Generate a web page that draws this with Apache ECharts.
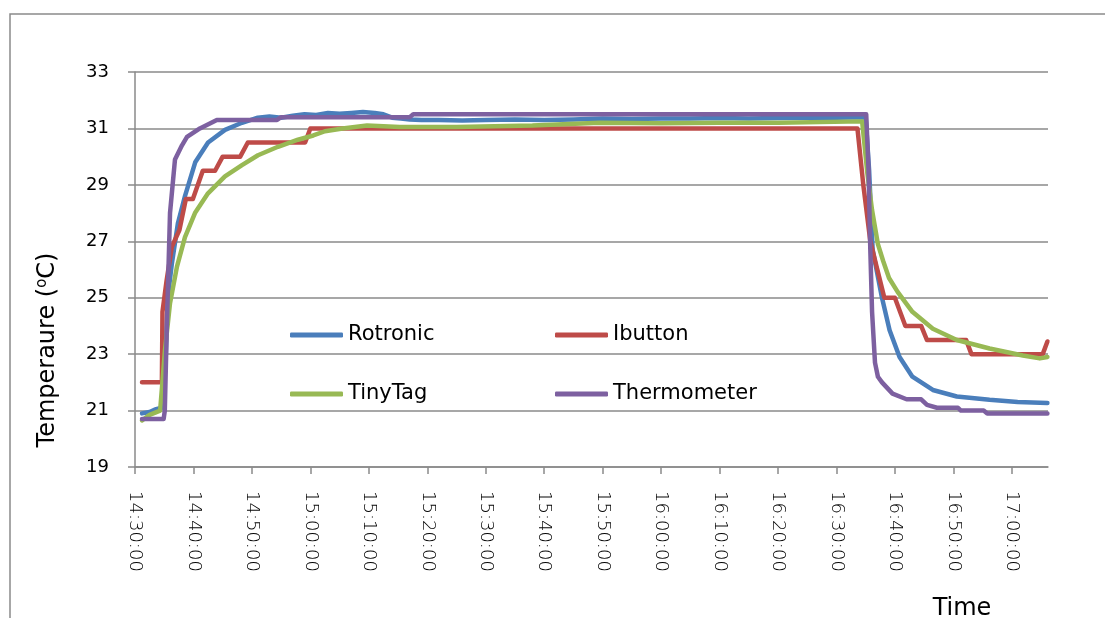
<!DOCTYPE html>
<html>
<head>
<meta charset="utf-8">
<script src="https://cdn.jsdelivr.net/npm/echarts@6/dist/echarts.min.js"></script>
<style>
html,body{margin:0;padding:0;background:#fff;}
#chart{width:1105px;height:618px;}
</style>
</head>
<body>
<div id="chart"></div>
<script>
// Time values are minutes after 14:30:00
const seriesNames = ['Rotronic', 'Ibutton', 'TinyTag', 'Thermometer'];
const yTicks = [19, 21, 23, 25, 27, 29, 31, 33];
const xTickMinutes = [0, 10, 20, 30, 40, 50, 60, 70, 80, 90, 100, 110, 120, 130, 140, 150];

const rotronicT = [1.2, 2.5, 3.6, 4.6, 5.2, 5.6, 6.3, 7.35, 8.55, 10.3, 12.5, 15.4, 18.3, 21.0, 23.0, 25.0, 27.0, 29.0, 31.0, 33.0, 35.0, 37.0, 39.0, 41.0, 42.5, 44.0, 45.5, 47.0, 49, 52, 56, 60, 65, 70, 75, 80, 85, 90, 95, 100, 105, 110, 115, 120, 125.0, 125.6, 126.2, 127.8, 129.1, 130.8, 133.0, 136.5, 140.6, 146.2, 151.0, 156.1];
const rotronicV = [20.9, 20.95, 21.05, 21.1, 22.6, 25.0, 26.2, 27.65, 28.6, 29.8, 30.5, 30.95, 31.2, 31.38, 31.42, 31.38, 31.45, 31.5, 31.48, 31.55, 31.52, 31.55, 31.58, 31.55, 31.5, 31.38, 31.35, 31.32, 31.3, 31.3, 31.28, 31.3, 31.32, 31.3, 31.32, 31.35, 31.33, 31.35, 31.35, 31.37, 31.35, 31.37, 31.38, 31.38, 31.4, 29.5, 26.7, 25.0, 23.85, 22.9, 22.2, 21.73, 21.5, 21.38, 21.3, 21.27];

const ibuttonT = [1.2, 4.6, 4.7, 5.4, 6.3, 7.6, 8.7, 9.9, 11.6, 13.7, 15.0, 18.0, 19.3, 29.1, 30.0, 123.6, 124.6, 125.8, 127.0, 128.2, 130.0, 131.8, 134.5, 135.5, 142.2, 143.1, 155.3, 156.1];
const ibuttonV = [22.0, 22.0, 24.5, 25.6, 26.8, 27.4, 28.5, 28.5, 29.5, 29.5, 30.0, 30.0, 30.5, 30.5, 31.0, 31.0, 29.0, 27.0, 26.0, 25.0, 25.0, 24.0, 24.0, 23.5, 23.5, 23.0, 23.0, 23.45];

const tinytagT = [1.2, 2.5, 4.3, 5.13, 5.99, 7.18, 8.55, 10.26, 12.49, 15.39, 18.3, 21.04, 24.46, 27.88, 30.5, 32.5, 35.5, 39.7, 45.3, 55, 68, 79.5, 90, 100, 110, 124.4, 125.3, 126.1, 127.1, 128.0, 129.0, 130.5, 133.0, 136.5, 140.6, 146.2, 151.9, 154.8, 156.1];
const tinytagV = [20.65, 20.85, 21.0, 23.15, 24.8, 26.1, 27.15, 28.0, 28.7, 29.3, 29.7, 30.05, 30.35, 30.6, 30.75, 30.9, 31.0, 31.1, 31.05, 31.05, 31.1, 31.2, 31.18, 31.2, 31.2, 31.25, 29.4, 28.1, 26.9, 26.3, 25.7, 25.2, 24.5, 23.9, 23.5, 23.2, 22.95, 22.85, 22.9];

const thermoT = [1.2, 4.9, 5.1, 5.4, 5.99, 6.84, 8.04, 8.9, 11.1, 14.0, 24.3, 25.0, 47.0, 47.6, 125.1, 125.5, 125.8, 126.1, 126.6, 127.1, 127.8, 129.6, 132.0, 134.5, 135.5, 137.2, 140.8, 141.3, 145.2, 145.8, 156.1];
const thermoV = [20.7, 20.7, 21.0, 23.6, 28.0, 29.9, 30.4, 30.7, 31.0, 31.3, 31.3, 31.4, 31.4, 31.5, 31.5, 29.5, 26.7, 24.5, 22.7, 22.2, 22.0, 21.6, 21.4, 21.4, 21.2, 21.1, 21.1, 21.0, 21.0, 20.9, 20.9];

const colors = ['#4a7ebb', '#be4b48', '#98b954', '#7d60a0'];
const seriesT = [rotronicT, ibuttonT, tinytagT, thermoT];
const seriesV = [rotronicV, ibuttonV, tinytagV, thermoV];

function fmtTime(m) {
  const total = Math.round(m) + 14 * 60 + 30;
  const h = Math.floor(total / 60), mm = total % 60;
  return h + ':' + String(mm).padStart(2, '0') + ':00';
}

const chart = echarts.init(document.getElementById('chart'), null, {renderer: 'canvas'});
const gridColor = '#8a8a8a';
const font = 'DejaVu Sans';

const legendPos = [[290, 335], [555, 335], [290, 394], [555, 394]];

const option = {
  animation: false,
  backgroundColor: '#ffffff',
  color: colors,
  grid: {left: 135, right: 57, top: 72, bottom: 151, containLabel: false, outerBoundsMode: 'none'},
  legend: seriesNames.map((n, i) => ({
    data: [n],
    left: legendPos[i][0],
    top: legendPos[i][1] - 12,
    padding: 0,
    itemWidth: 53,
    itemHeight: 5,
    icon: 'roundRect',
    selectedMode: false,
    textStyle: {fontFamily: font, fontSize: 21, color: '#000', lineHeight: 24, padding: [0, 0, 0, 0]}
  })),
  xAxis: {
    type: 'value',
    min: 0,
    max: 156.2,
    interval: 10,
    axisLine: {show: true, lineStyle: {color: gridColor, width: 1.5}},
    axisTick: {show: true, length: 7, lineStyle: {color: gridColor, width: 1.5}, customValues: xTickMinutes},
    splitLine: {show: false},
    axisLabel: {
      customValues: xTickMinutes,
      rotate: -90,
      margin: 24,
      fontFamily: font,
      fontSize: 18,
      fontWeight: 200,
      color: '#000',
      formatter: v => fmtTime(v)
    }
  },
  yAxis: {
    type: 'value',
    min: 19,
    max: 33,
    interval: 2,
    axisLine: {show: true, lineStyle: {color: gridColor, width: 1.5}},
    axisTick: {show: true, length: 7, lineStyle: {color: gridColor, width: 1.5}},
    splitLine: {show: true, lineStyle: {color: gridColor, width: 1.5}},
    axisLabel: {margin: 26, fontFamily: font, fontSize: 18, color: '#000'}
  },
  graphic: [
    {type: 'rect', silent: true, shape: {x: 10, y: 14, width: 1300, height: 800},
     style: {fill: 'none', stroke: '#8a8a8a', lineWidth: 1.5}},
    {type: 'text', silent: true, x: 48, y: 350, rotation: Math.PI / 2,
     style: {
       text: 'Temperaure ({s|o}C)',
       fontFamily: font, fontSize: 24, fill: '#000',
       align: 'center', verticalAlign: 'middle',
       rich: {s: {fontFamily: font, fontSize: 15, verticalAlign: 'top', fill: '#000', lineHeight: 26}}
     }},
    {type: 'text', silent: true, x: 962, y: 597,
     style: {text: 'Time', fontFamily: font, fontSize: 24, fill: '#000', align: 'center', verticalAlign: 'top'}}
  ],
  series: seriesNames.map((n, i) => ({
    name: n,
    type: 'line',
    symbol: 'none',
    showSymbol: false,
    smooth: false,
    data: seriesT[i].map((t, k) => [t, seriesV[i][k]]),
    lineStyle: {width: 4.5, color: colors[i], cap: 'round', join: 'round'},
    itemStyle: {color: colors[i]},
    z: 2 + i
  }))
};
chart.setOption(option);
</script>
</body>
</html>
